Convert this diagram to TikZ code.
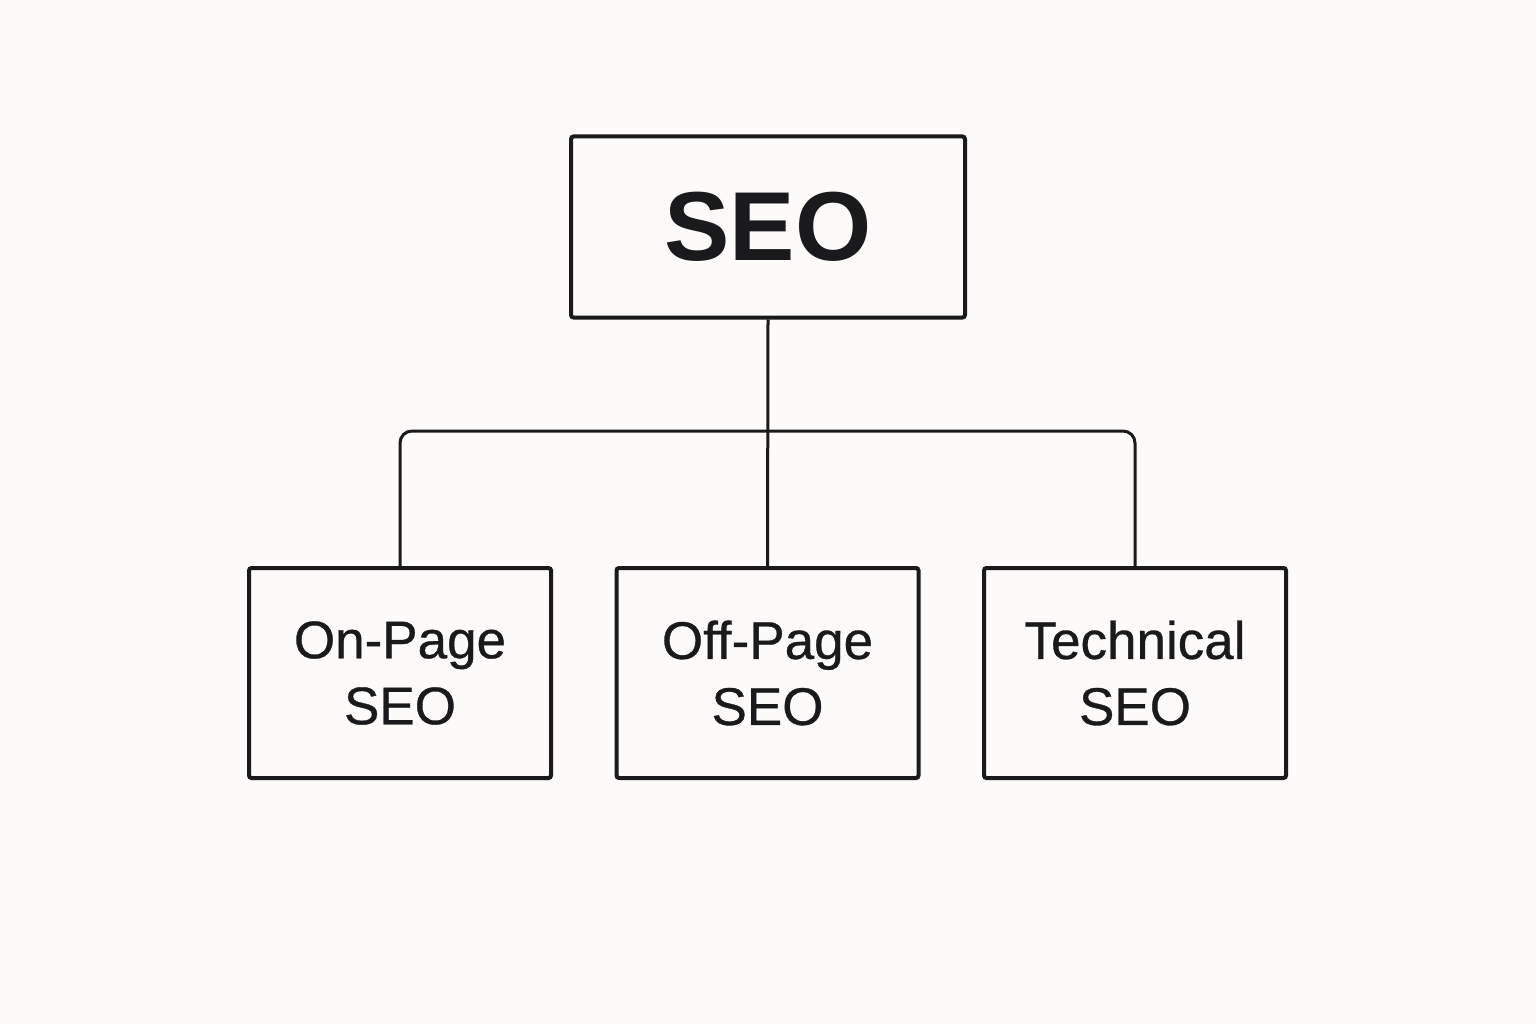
\documentclass[tikz,border=0pt]{standalone}
\usepackage{fontspec}
\setmainfont[Ligatures=NoCommon]{Liberation Sans}
\newfontfamily\childfont[Ligatures=NoCommon,FakeBold=0.6]{Liberation Sans}
\definecolor{bg}{RGB}{252,251,249}
\definecolor{ink}{RGB}{26,26,28}
\begin{document}
\begin{tikzpicture}[x=1pt,y=-1pt,
  box/.style={draw=ink, line width=4pt, rounded corners=2.5pt, inner sep=0pt, align=center, text=ink},
  topbox/.style={box, minimum width=394pt, minimum height=181pt, font=\fontsize{98}{110}\selectfont\bfseries},
  childbox/.style={box, minimum width=302pt, minimum height=210pt, font=\childfont\fontsize{53}{66}\selectfont},
  conn/.style={draw=ink, line width=3pt, rounded corners=12pt}]
\fill[bg] (0,0) rectangle (1536,1024);
\useasboundingbox (0,0) rectangle (1536,1024);
\node[topbox] (seo) at (768,227) {SEO};
\node[childbox] (on) at (400,673) {On-Page\\SEO};
\node[childbox] (off) at (767.5,673) {Off-Page\\SEO};
\node[childbox] (tech) at (1135,673) {Technical\\SEO};
\coordinate (bar) at (767.5,431);
\draw[conn] (seo.south) -- (off.north);
\draw[conn] (on.north) |- (bar) -| (tech.north);
\end{tikzpicture}
\end{document}
